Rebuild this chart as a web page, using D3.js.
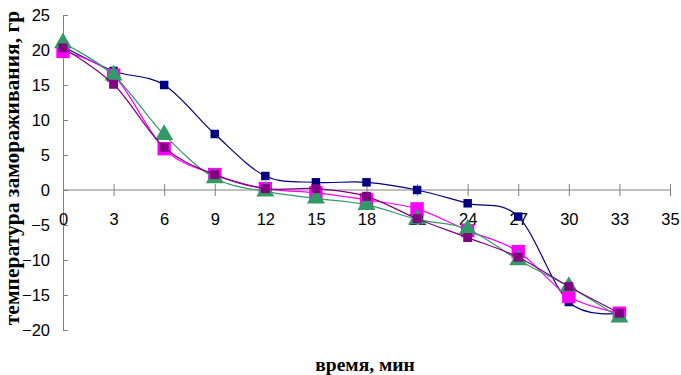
<!DOCTYPE html>
<html>
<head>
<meta charset="utf-8">
<script src="https://cdn.jsdelivr.net/npm/d3@7"></script>
<style>
  body { margin: 0; background: #fff; }
</style>
</head>
<body>
<div id="chart"></div>
<script>
const categories = ["0", "3", "6", "9", "12", "15", "18", "21", "24", "27", "30", "33", "35"];
const seriesNavy = [20.5, 17, 15, 8, 2, 1.1, 1.1, 0, -1.9, -3.8, -16, -17.6];
const seriesMagenta = [19.8, 16.4, 5.9, 2.2, 0.2, -0.4, -1.4, -2.7, -5.8, -8.8, -15.2, -17.6];
const seriesGreen = [21, 16.4, 7.9, 1.7, -0.2, -1.2, -2.1, -4.2, -5.6, -10, -13.8, -18.2];
const seriesPurple = [20.3, 15.1, 6.1, 2.2, 0.2, 0.2, -0.9, -4.1, -6.8, -9.6, -13.8, -17.6];
const yTicks = [25, 20, 15, 10, 5, 0, -5, -10, -15, -20];

const SIZE = { width: 681, height: 375 };
const MARGIN = { left: 63, right: 11, top: 15, bottom: 45 };

const svg = d3.select("div#chart").append("svg")
    .attr("width", SIZE.width)
    .attr("height", SIZE.height)
    .style("font-family", "Arial, 'Liberation Sans', sans-serif");

const xScale = d3.scalePoint().domain(categories).range([MARGIN.left, SIZE.width - MARGIN.right]);
const yScale = d3.scaleLinear().domain([-20, 25]).range([330, 15]);

// y axis
const yAxis = svg.append("g")
    .attr("transform", `translate(${xScale("0")}, 0)`)
    .call(d3.axisLeft(yScale).tickValues(yTicks).tickSizeInner(5).tickSizeOuter(0).tickPadding(8));
yAxis.selectAll(".tick line").attr("x2", 5);
yAxis.selectAll("text").style("font-size", "16.5px").attr("fill", "#000");
yAxis.selectAll("line, path").attr("stroke", "#808080");

// x axis at y = 0
const xAxis = svg.append("g")
    .attr("transform", `translate(0, ${yScale(0)})`)
    .call(d3.axisBottom(xScale).tickSizeInner(6).tickSizeOuter(0).tickPadding(17));
xAxis.selectAll(".tick line").attr("y1", -6);
xAxis.select(".domain").attr("d", `M${xScale("0")},0H${xScale("35")}`);
xAxis.selectAll("text").style("font-size", "16.5px").attr("fill", "#000");
xAxis.selectAll("line, path").attr("stroke", "#808080");

const xVal = (d, i) => xScale(categories[i]);
const line = d3.line().x(xVal).y(d => yScale(d)).curve(d3.curveCardinal);

function drawSeries(values, color, marker, size, fill) {
  svg.append("path")
      .datum(values)
      .attr("fill", "none")
      .attr("stroke", color)
      .attr("stroke-width", 1.2)
      .attr("d", line);
  const sym = d3.symbol().type(marker).size(size);
  svg.append("g").selectAll("path")
      .data(values)
      .join("path")
      .attr("transform", (d, i) => `translate(${xVal(d, i)}, ${yScale(d)})`)
      .attr("d", sym)
      .attr("fill", fill);
}

drawSeries(seriesNavy, "#000080", d3.symbolSquare, 72, "#000080");
drawSeries(seriesMagenta, "#ff00ff", d3.symbolSquare, 180, "#ff00ff");
drawSeries(seriesGreen, "#339966", d3.symbolTriangle, 140, "#339966");
drawSeries(seriesPurple, "#800080", d3.symbolSquare, 80, "#800080");

// axis titles
svg.append("text")
    .attr("transform", `translate(19, 168) rotate(-90)`)
    .attr("text-anchor", "middle")
    .style("font-family", "'Liberation Serif', 'Times New Roman', serif")
    .style("font-weight", "bold")
    .style("font-size", "21.5px")
    .text("температура замораживания, гр");

svg.append("text")
    .attr("x", 365)
    .attr("y", 371)
    .attr("text-anchor", "middle")
    .style("font-family", "'Liberation Serif', 'Times New Roman', serif")
    .style("font-weight", "bold")
    .style("font-size", "19.5px")
    .text("время, мин");
</script>
</body>
</html>
